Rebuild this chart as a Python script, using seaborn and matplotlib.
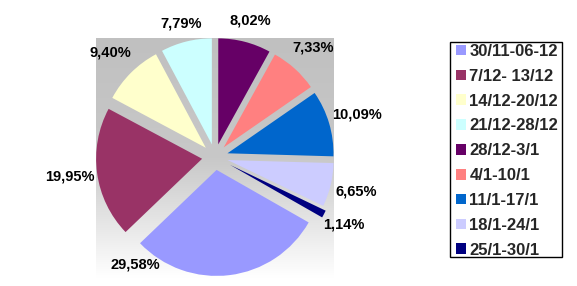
import numpy as np
import matplotlib
matplotlib.use("Agg")
import matplotlib.pyplot as plt
import seaborn as sns
from matplotlib.colors import LinearSegmentedColormap
from matplotlib.patches import Rectangle

# ---- data ----
categories = ["30/11-06-12", "7/12- 13/12", "14/12-20/12", "21/12-28/12",
              "28/12-3/1", "4/1-10/1", "11/1-17/1", "18/1-24/1", "25/1-30/1"]
values = [29.58, 19.95, 9.40, 7.79, 8.02, 7.33, 10.09, 6.65, 1.14]
value_labels = ["29,58%", "19,95%", "9,40%", "7,79%", "8,02%",
                "7,33%", "10,09%", "6,65%", "1,14%"]
colors = ["#9999FF", "#993366", "#FFFFCC", "#CCFFFF", "#660066",
          "#FF8080", "#0066CC", "#CCCCFF", "#000080"]

sns.set_theme(style="white")
plt.rcParams['font.family'] = ['Liberation Sans', 'DejaVu Sans']
palette = sns.color_palette(colors)

W, H = 577, 286
fig = plt.figure(figsize=(W / 100, H / 100), dpi=100)
ax = fig.add_axes([0, 0, 1, 1])

# pixel-based layout
cx, cy = 215, 129
R = 106
explode = [13] * 8 + [17]

# plot-area gradient (grey to white)
grad = np.linspace(0, 1, 256).reshape(-1, 1)
cmap = LinearSegmentedColormap.from_list("bg", ["#C0C0C0", "#C8C8C8", "#FFFFFF"])
ax.imshow(grad, extent=(96, 334, 8, 248), cmap=cmap, aspect='auto',
          origin='upper', zorder=0, interpolation='bilinear')

wedges, _ = ax.pie(values, colors=palette, startangle=330.3, counterclock=False,
                   radius=R, center=(cx, cy), explode=explode, frame=True,
                   wedgeprops=dict(linewidth=0, zorder=2))

# percentage labels
label_dist = [134, 146, 148, 138, 141, 147, 148, 145, 145]
label_angle_override = {0: -126.5}
for i, w in enumerate(wedges):
    mid = np.deg2rad(label_angle_override.get(i, (w.theta1 + w.theta2) / 2))
    d = label_dist[i]
    ax.text(cx + d * np.cos(mid), cy + d * np.sin(mid), value_labels[i],
            ha='center', va='center', fontsize=10.5, fontweight='bold',
            color='black', zorder=3)

# legend
ax.add_patch(Rectangle((450, 286 - 257), 112, 215, fill=False,
                       edgecolor='black', linewidth=1, zorder=3))
leg = ax.legend(wedges, categories, loc='center left',
                bbox_to_anchor=(456 / W, 1 - 150.8 / H),
                bbox_transform=fig.transFigure, frameon=False,
                prop=dict(size=12, weight='bold'),
                handlelength=0.6, handleheight=0.6,
                handletextpad=0.2, borderpad=0, borderaxespad=0,
                labelspacing=0.59)

ax.set_xlim(0, W)
ax.set_ylim(0, H)
ax.set_aspect('auto')
ax.axis('off')

fig.savefig("out.png", dpi=100)
